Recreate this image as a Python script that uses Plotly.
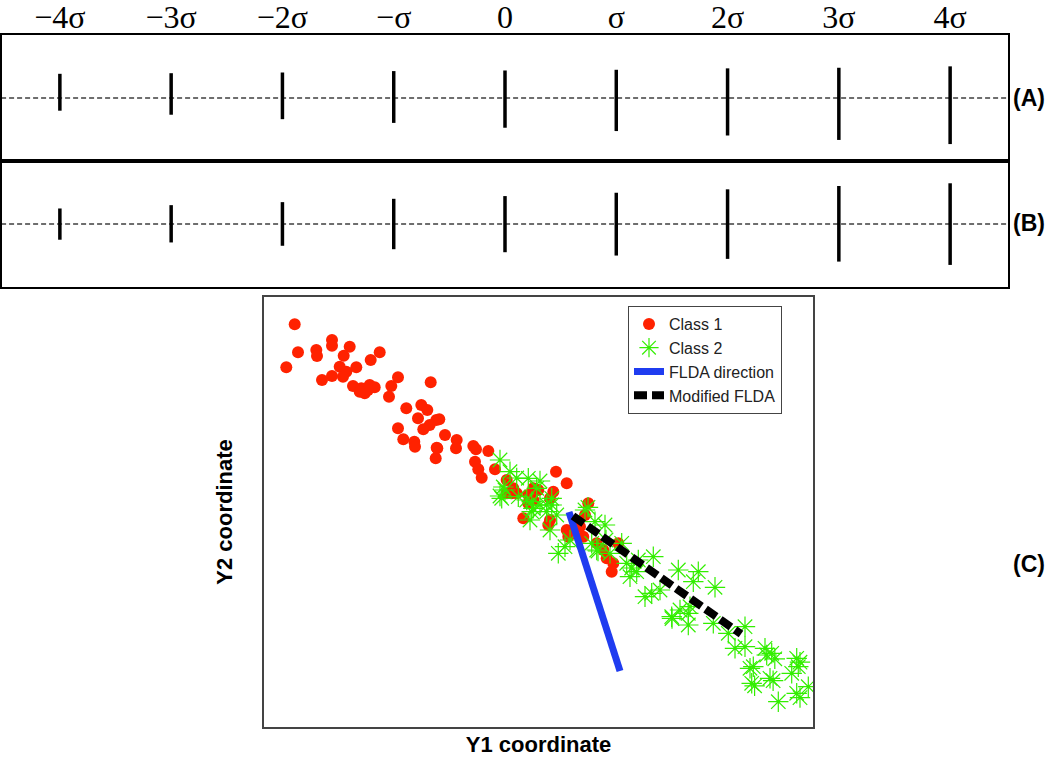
import plotly.graph_objects as go

# ---------------- Panels A / B : sigma ticks ----------------
sigma_pos = [-4, -3, -2, -1, 0, 1, 2, 3, 4]
sigma_labels = ["\u22124\u03c3", "\u22123\u03c3", "\u22122\u03c3", "\u2212\u03c3", "0", "\u03c3", "2\u03c3", "3\u03c3", "4\u03c3"]
a_top = [24, 24.6, 25.3, 26.7, 27.3, 28, 29.4, 30, 31.4]
a_bottom = [-12.6, -16.6, -21, -24.7, -29.5, -32.8, -37.2, -41.6, -45.7]
b_top = [15.4, 18.7, 21.7, 25, 27.7, 31, 34.4, 37.7, 40.4]
b_bottom = [-15.6, -18.3, -21.6, -25, -28, -31.3, -34.6, -37.3, -40.6]

# ---------------- Panel C : scatter ----------------
class1_y1 = [294.7, 298, 286.3, 316.3, 317, 332, 332, 349.7, 343.7, 379.7, 370.7, 339.7, 346.3, 343,
             356.3, 332, 322, 353, 361.3, 364.7, 369.7, 374.7, 368, 359.7, 398, 391.3, 389, 430.7,
             406.3, 421.3, 427.3, 418, 398, 436.3, 429.7, 439.3, 423.3, 403.3, 414.3, 445, 456.7,
             456, 437.3, 435.7, 473.3, 476, 488.3, 475, 478.3, 481.7, 495, 506.7, 511.7, 528.3,
             533.3, 556, 553.3, 528.3, 516.7, 566.7, 550, 513.3, 538.3, 506.7, 533.3, 523.3, 550,
             548.3, 588.3, 585, 580, 583.3, 566.7, 568.3, 603.3, 606.7, 613.3, 596.7, 611.7, 618.3,
             415, 436.7]
class1_y2 = [324.3, 352.3, 367.3, 350, 356, 340, 345.7, 346.7, 355.7, 352.3, 360, 366.7, 371.7, 376.7,
             367.3, 376, 380, 386, 388.3, 393.3, 385, 387.3, 390, 391.7, 377.3, 386, 396.7, 382.3,
             408.3, 405, 410, 418.3, 428.3, 420, 425, 419.3, 429.3, 439.3, 441.7, 435, 440,
             448.3, 448.3, 458.3, 446, 449.3, 451, 461.7, 469.3, 477.7, 469.3, 480, 493.3, 495,
             488.3, 471.7, 491.7, 503.3, 493.3, 483.3, 498.3, 488.3, 490, 493.3, 500, 518.3, 520,
             525, 503.3, 515, 526.7, 536.7, 530, 536.7, 550, 558.3, 563.3, 543.3, 571.7, 543.3,
             446.7, 447.7]

class2_y1 = [500, 510, 516.7, 528.3, 540, 503.3, 505, 501.7, 518.3, 526.7, 531.7, 540, 531.7, 546.7,
             530, 551.7, 556.7, 550, 546.7, 551.7, 536.7, 585, 595, 565, 558.3, 570, 591.7, 596.7,
             588, 598, 621.7, 610, 626.7, 638.3, 653.3, 631.7, 630, 636.7, 645, 651.7, 678.3, 698.3,
             693.3, 715, 671.7, 680, 688.3, 690, 688.3, 713.3, 728.3, 745, 735, 745, 765, 766.7,
             771.7, 774.8, 750, 753.3, 754.6, 770, 773.1, 751.7, 796.7, 800, 791.7, 798.3, 808.3,
             796.7, 778.3, 800, 500, 533.3, 606, 605, 660, 672]
class2_y2 = [460, 471.7, 478, 478.3, 481, 487, 490, 498.3, 496.7, 500, 501.7, 505, 511.7, 511.7,
             520, 505, 515, 530, 505, 498.3, 488.3, 510, 521.7, 546.7, 553.3, 540, 543.3, 550,
             507.3, 551, 543.3, 553.3, 563.3, 560, 556.7, 568, 576.7, 571.7, 596.7, 593.3, 570, 571.7,
             581.7, 587.3, 616.7, 610, 613.3, 606.7, 625, 623.3, 633.3, 626.7, 648.3, 646.7, 648.3, 655,
             653.3, 658.8, 668.3, 666.7, 685.8, 678.3, 680.7, 683.3, 658.3, 662.2, 673.3, 666.7, 686.7,
             693.3, 701.7, 697.6, 496, 508.3, 540, 525, 590, 618.5]

flda_y1 = [569, 620]
flda_y2 = [512, 671]
mod_y1 = [573, 741]
mod_y2 = [516, 634]

fig = go.Figure()

# panel A / B ticks
ax_x, ax_y, bx_x, bx_y = [], [], [], []
for s, t, b in zip(sigma_pos, a_top, a_bottom):
    ax_x += [s, s, None]
    ax_y += [b, t, None]
for s, t, b in zip(sigma_pos, b_top, b_bottom):
    bx_x += [s, s, None]
    bx_y += [b, t, None]

fig.add_trace(go.Scatter(x=[-4.6, 4.6], y=[0, 0], mode="lines",
                         line=dict(color="#6e6e6e", width=2, dash="5px,3px"),
                         showlegend=False, hoverinfo="skip", xaxis="x", yaxis="y"))
fig.add_trace(go.Scatter(x=ax_x, y=ax_y, mode="lines", line=dict(color="black", width=3.5),
                         showlegend=False, xaxis="x", yaxis="y"))
fig.add_trace(go.Scatter(x=[-4.6, 4.6], y=[0, 0], mode="lines",
                         line=dict(color="#6e6e6e", width=2, dash="5px,3px"),
                         showlegend=False, hoverinfo="skip", xaxis="x2", yaxis="y2"))
fig.add_trace(go.Scatter(x=bx_x, y=bx_y, mode="lines", line=dict(color="black", width=3.5),
                         showlegend=False, xaxis="x2", yaxis="y2"))

# panel C
fig.add_trace(go.Scatter(x=class1_y1, y=class1_y2, mode="markers", name="Class 1",
                         marker=dict(symbol="circle", size=12, color="#ff2200"),
                         xaxis="x3", yaxis="y3"))
fig.add_trace(go.Scatter(x=class2_y1, y=class2_y2, mode="markers", name="Class 2",
                         marker=dict(symbol="asterisk-open", size=17, color="#33ee00",
                                     line=dict(color="#33ee00", width=1.2)),
                         xaxis="x3", yaxis="y3"))
fig.add_trace(go.Scatter(x=flda_y1, y=flda_y2, mode="lines", name="FLDA direction",
                         line=dict(color="#1f3cf0", width=7),
                         xaxis="x3", yaxis="y3"))
fig.add_trace(go.Scatter(x=mod_y1, y=mod_y2, mode="lines", name="Modified FLDA",
                         line=dict(color="black", width=8, dash="13px,5px"),
                         xaxis="x3", yaxis="y3"))

W, H = 1050, 759
def fx(p):
    return p / W
def fy(p):
    return 1 - p / H

panel_axis = dict(showgrid=False, zeroline=False, showline=True, mirror=True,
                  linecolor="black", linewidth=2, ticks="", fixedrange=True, automargin=False)

fig.update_layout(
    width=W, height=H,
    margin=dict(l=0, r=0, t=0, b=0, autoexpand=False),
    paper_bgcolor="white", plot_bgcolor="white",
    font=dict(family="Liberation Sans, Arial, sans-serif", color="black"),
    xaxis=dict(domain=[fx(2), fx(1008)], range=[-4.52, 4.52], anchor="y", side="top",
               tickvals=sigma_pos, ticktext=sigma_labels, showticklabels=True,
               ticklabelstandoff=-8,
               tickfont=dict(family="Liberation Serif, Times New Roman, serif", size=32, color="black"),
               **panel_axis),
    yaxis=dict(domain=[fy(161), fy(35)], range=[-62.5, 62.5], anchor="x",
               showticklabels=False, **panel_axis),
    xaxis2=dict(domain=[fx(2), fx(1008)], range=[-4.52, 4.52], anchor="y2",
                showticklabels=False, **panel_axis),
    yaxis2=dict(domain=[fy(287), fy(161)], range=[-62.5, 62.5], anchor="x2",
                showticklabels=False, **panel_axis),
    xaxis3=dict(domain=[fx(264), fx(813)], range=[264, 813], anchor="y3",
                showgrid=False, zeroline=False, showline=True, mirror=True, automargin=False,
                linecolor="#444444", linewidth=1.5, ticks="", showticklabels=False,
                title=dict(text="<b>Y1 coordinate</b>", standoff=9,
                           font=dict(size=22, color="black"))),
    yaxis3=dict(domain=[fy(727), fy(297)], range=[727, 297], anchor="x3",
                showgrid=False, zeroline=False, showline=True, mirror=True, automargin=False,
                linecolor="#444444", linewidth=1.5, ticks="", showticklabels=False,
                title=dict(text="<b>Y2 coordinate</b>", standoff=24,
                           font=dict(size=22, color="black"))),
    legend=dict(x=fx(628), y=fy(306), xanchor="left", yanchor="top",
                bgcolor="white", bordercolor="#444444", borderwidth=1,
                font=dict(family="Liberation Sans, Arial, sans-serif", size=16, color="#222222"),
                tracegroupgap=0),
    showlegend=True,
)

for txt, ypix in [("(A)", 98), ("(B)", 223), ("(C)", 564)]:
    fig.add_annotation(text="<b>%s</b>" % txt, x=fx(1029), y=fy(ypix), xref="paper", yref="paper",
                       showarrow=False, xanchor="center", yanchor="middle",
                       font=dict(size=23, color="black", family="Liberation Sans, Arial, sans-serif"))

fig.write_html("out.html", config={"displayModeBar": False},
               post_script="document.body.style.margin='0';document.body.style.padding='0';")
